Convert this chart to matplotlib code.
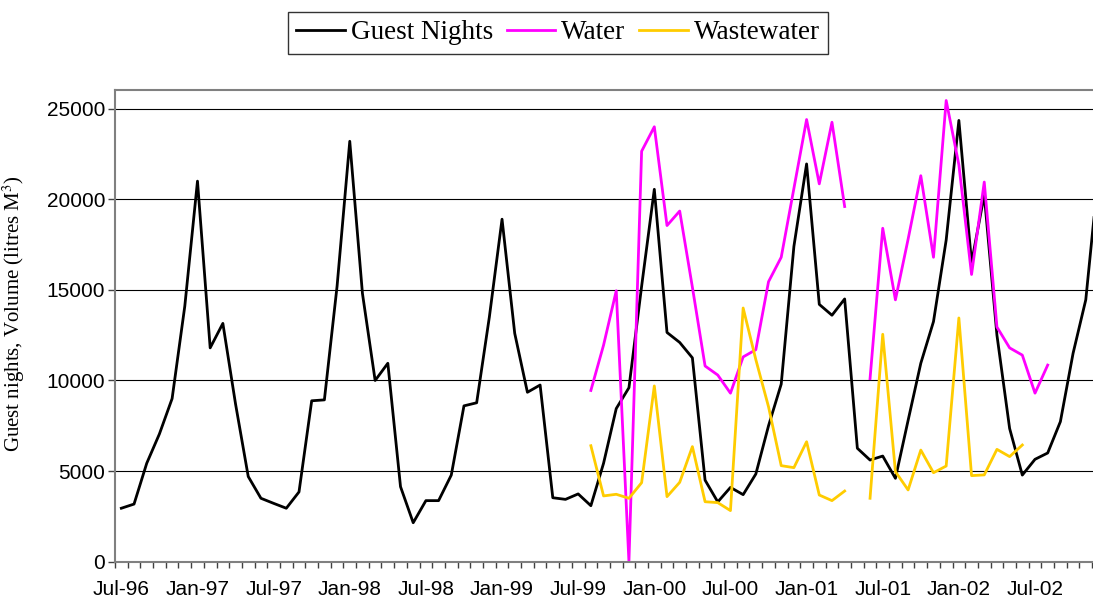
import numpy as np
import matplotlib
matplotlib.use('Agg')
import matplotlib.pyplot as plt
from matplotlib.ticker import FixedLocator

nan = np.nan

# Monthly series, Jul-96 onwards (one value per month)
guest_nights = [
    2950, 3180, 5430, 7050, 9000, 14100, 21000, 11800, 13150, 8700,
    4700, 3500, 3220, 2950, 3850, 8880, 8930, 15200, 23200, 14800,
    10000, 10950, 4140, 2150, 3370, 3370, 4780, 8600, 8770, 13500,
    18900, 12600, 9350, 9750, 3530, 3440, 3740, 3090, 5430, 8450,
    9600, 15200, 20550, 12650, 12100, 11250, 4500, 3300, 4100, 3700,
    4840, 7500, 9800, 17400, 21950, 14200, 13600, 14500, 6260, 5610,
    5830, 4600, 7800, 10950, 13250, 17750, 24350, 16500, 20250, 12500,
    7350, 4780, 5650, 6000, 7730, 11500, 14450, 21450,
]

water = [nan] * 37 + [
    9450, 11950, 14950, 0, 22650, 24000, 18550, 19350, 15150, 10800,
    10300, 9300, 11300, 11700, 15450, 16800, 20600, 24400, 20850, 24250,
    19600, nan, 10100, 18400, 14450, 17800, 21300, 16800, 25450, 21900,
    15850, 20950, 12950, 11800, 11400, 9300, 10850,
] + [nan] * 4

wastewater = [nan] * 37 + [
    6400, 3630, 3720, 3500, 4360, 9700, 3590, 4380, 6350, 3310,
    3260, 2820, 14000, 11150, 8550, 5300, 5190, 6620, 3680, 3370,
    3900, nan, 3500, 12550, 4970, 3960, 6160, 4910, 5280, 13450,
    4750, 4790, 6200, 5800, 6440,
] + [nan] * 6

tick_labels = ['Jul-96', 'Jan-97', 'Jul-97', 'Jan-98', 'Jul-98', 'Jan-99',
               'Jul-99', 'Jan-00', 'Jul-00', 'Jan-01', 'Jul-01', 'Jan-02',
               'Jul-02']

x = np.arange(len(guest_nights))

plt.rcParams['mathtext.fontset'] = 'stix'

fig = plt.figure(figsize=(10.93, 6.01), dpi=100)
ax = fig.add_axes([115 / 1093, 39.3 / 601, 978 / 1093, 471.7 / 601])

l1, = ax.plot(x, guest_nights, color='black', linewidth=2.0, label='Guest Nights')
l2, = ax.plot(x, water, color='#FF00FF', linewidth=2.0, label='Water')
l3, = ax.plot(x, wastewater, color='#FFCC00', linewidth=2.0, label='Wastewater')

ax.set_xlim(-0.5, 76.57)
ax.set_ylim(0, 26030)

# gridlines
ax.set_yticks(range(0, 25001, 5000))
ax.yaxis.grid(True, color='black', linewidth=0.8)
ax.set_axisbelow(True)

# category axis: ticks between months, labels every 6 months
ax.xaxis.set_major_locator(FixedLocator(np.arange(0, 73, 6)))
ax.set_xticklabels(tick_labels)
ax.xaxis.set_minor_locator(FixedLocator(np.arange(-0.5, 77, 1)))
ax.tick_params(axis='x', which='major', length=0, pad=13)
ax.tick_params(axis='x', which='minor', length=4.5, width=1, color='#404040',
               direction='out')
ax.tick_params(axis='y', length=5, width=1, color='#404040', direction='out', pad=2)

for lab in ax.get_xticklabels() + ax.get_yticklabels():
    lab.set_fontfamily('Liberation Sans')
    lab.set_fontsize(15)

for side in ['left', 'top', 'bottom']:
    ax.spines[side].set_color('#808080')
    ax.spines[side].set_linewidth(1.5)
ax.spines['right'].set_visible(False)

ax.set_ylabel(r'Guest nights, Volume (litres M$^3$)', family='Liberation Serif',
              fontsize=15)
ax.yaxis.set_label_coords(-0.09, 0.525)

fig.legend(handles=[l1, l2, l3], loc='upper center', bbox_to_anchor=(0.5105, 0.9795),
           ncol=3, frameon=True, fancybox=False, edgecolor='black',
           prop={'family': 'Liberation Serif', 'size': 19.5},
           handlelength=1.8, handletextpad=0.22, columnspacing=0.5,
           borderpad=0.3, borderaxespad=0)

fig.savefig('out.png', dpi=100)
